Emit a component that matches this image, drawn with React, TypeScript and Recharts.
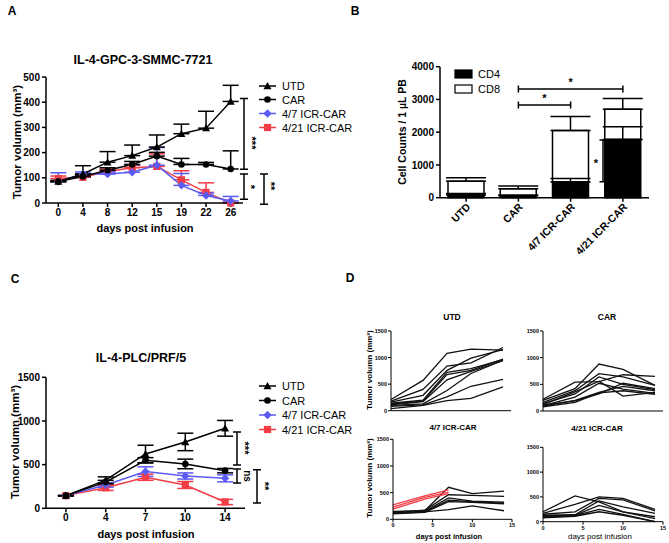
import React from 'react';
import { Bar, BarChart, ErrorBar, Line, LineChart, XAxis, YAxis } from 'recharts';

const FONT = "'Liberation Sans', Arial, sans-serif";
const BLUE = '#5b5bf2';
const RED = '#f23c46';

const groupNames = ['UTD', 'CAR', '4/7 ICR-CAR', '4/21 ICR-CAR'];

// A: IL-4-GPC-3-SMMC-7721 (mean, upper SEM)
const daysA = ['0', '4', '8', '12', '15', '19', '22', '26'];
const utdA = [85, 115, 162, 188, 222, 275, 297, 403];
const utdAErr = [5, 33, 42, 42, 48, 38, 67, 64];
const carA = [85, 105, 130, 153, 186, 153, 153, 135];
const carAErr = [0, 8, 10, 12, 15, 24, 8, 72];
const icr47A = [85, 115, 115, 122, 150, 70, 30, 8];
const icr47AErr = [35, 8, 8, 30, 70, 47, 10, 18];
const icr421A = [97, 102, 125, 140, 145, 92, 42, 0];
const icr421AErr = [10, 5, 10, 10, 50, 36, 38, 0];

// C: IL-4-PLC/PRF/5 (mean +/- SEM)
const daysC = ['0', '4', '7', '10', '14'];
const utdC = [145, 322, 622, 760, 916];
const utdCErr = [0, 38, 100, 100, 90];
const carC = [145, 300, 550, 508, 431];
const carCErr = [0, 20, 30, 55, 25];
const icr47C = [145, 267, 420, 370, 343];
const icr47CErr = [0, 25, 55, 35, 40];
const icr421C = [145, 235, 355, 267, 72];
const icr421CErr = [0, 30, 35, 40, 30];

// B: cell counts per uL PB
const cd4Counts = [80, 60, 480, 1780];
const cd8Counts = [420, 210, 1570, 920];
const cd4Sem = [50, 20, 110, 390];
const cd8Sem = [110, 90, 430, 330];

// D: individual mice
const dDays = [0, 4, 7, 10, 14];
const utdMice = [
  [210, 570, 1080, 1160, 1140],
  [180, 400, 840, 900, 1190],
  [160, 290, 760, 990, 1150],
  [140, 200, 720, 790, 960],
  [130, 180, 680, 760, 970],
  [110, 170, 580, 740, 940],
  [100, 130, 380, 700, 950],
  [80, 110, 260, 460, 590],
  [40, 100, 190, 230, 450],
];
const carMice = [
  [220, 540, 550, 680, 650],
  [200, 420, 880, 780, 480],
  [160, 380, 700, 640, 480],
  [140, 320, 640, 500, 400],
  [120, 360, 560, 280, 350],
  [100, 260, 520, 410, 330],
  [90, 200, 350, 460, 380],
  [80, 160, 340, 380, 310],
  [110, 190, 320, 520, 420],
];
const icr47Mice = [
  [150, 160, 600, 480, 530],
  [130, 170, 460, 450, 430],
  [120, 150, 400, 340, 320],
  [110, 140, 360, 330, 300],
  [100, 130, 330, 320, 290],
  [140, 140, 180, 250, 160],
];
const icr47RedMice = [
  [270, 440, 550],
  [230, 410, 510],
  [190, 380, 480],
];
const icr421Mice = [
  [200, 520, 400, 200, 100],
  [170, 350, 500, 470, 250],
  [150, 200, 470, 440, 220],
  [130, 140, 420, 300, 170],
  [110, 130, 330, 200, 60],
  [100, 120, 250, 150, 0],
  [80, 110, 200, 130, 0],
];

const rowsA = daysA.map((day, i) => ({
  day,
  utd: utdA[i], utdE: [0, utdAErr[i]],
  car: carA[i], carE: [0, carAErr[i]],
  i47: icr47A[i], i47E: [0, icr47AErr[i]],
  i421: icr421A[i], i421E: [0, icr421AErr[i]],
}));

const rowsC = daysC.map((day, i) => ({
  day,
  utd: utdC[i], utdE: [utdCErr[i], utdCErr[i]],
  car: carC[i], carE: [carCErr[i], carCErr[i]],
  i47: icr47C[i], i47E: [icr47CErr[i], icr47CErr[i]],
  i421: icr421C[i], i421E: [icr421CErr[i], icr421CErr[i]],
}));

const rowsB = groupNames.map((group, i) => ({
  group,
  cd4: cd4Counts[i], cd4E: [0, cd4Sem[i]],
  cd8: cd8Counts[i], cd8E: [0, cd8Sem[i]],
}));

function miceRows(mice: number[][], red: number[][] = []) {
  return dDays.map((day, d) => {
    const row: any = { day };
    mice.forEach((m, i) => (row['m' + i] = m[d]));
    red.forEach((m, i) => (row['r' + i] = m[d]));
    return row;
  });
}

type Plot = { left: number; top: number; width: number; height: number; max: number };
type Box = { left: number; top: number; width: number; height: number };

const yAt = (p: Plot, v: number) => p.top + p.height * (1 - v / p.max);

const A_BOX: Box = { left: 0, top: 0, width: 330, height: 245 };
const A_PLOT: Plot = { left: 46, top: 77, width: 197, height: 126, max: 500 };
const C_BOX: Box = { left: 0, top: 260, width: 330, height: 283 };
const C_PLOT: Plot = { left: 46, top: 377.3, width: 199, height: 131, max: 1500 };
const B_BOX: Box = { left: 330, top: 0, width: 339, height: 260 };
const B_PLOT: Plot = { left: 440, top: 66.7, width: 209, height: 131, max: 4000 };

const D_UTD = { box: { left: 355, top: 320, width: 165, height: 105 }, plot: { left: 391, top: 331, width: 120, height: 79.7, max: 1500 } };
const D_CAR = { box: { left: 510, top: 320, width: 159, height: 105 }, plot: { left: 543, top: 331, width: 120, height: 80, max: 1500 } };
const D_47 = { box: { left: 355, top: 430, width: 165, height: 105 }, plot: { left: 393, top: 439.3, width: 119, height: 80, max: 1500 } };
const D_421 = { box: { left: 510, top: 430, width: 159, height: 105 }, plot: { left: 543, top: 447.3, width: 120, height: 74.4, max: 1500 } };

function marginFor(box: Box, plot: Plot, yw: number, xh: number) {
  return {
    top: plot.top - box.top,
    left: plot.left - box.left - yw,
    right: box.left + box.width - plot.left - plot.width,
    bottom: box.top + box.height - plot.top - plot.height - xh,
  };
}

const triDot = (fill: string, r: number) => (p: any) =>
  p.cx == null || p.cy == null ? <g key={p.index} /> : (
    <path key={p.index} d={`M${p.cx},${p.cy - r}L${p.cx + r},${p.cy + r * 0.8}L${p.cx - r},${p.cy + r * 0.8}Z`} fill={fill} />
  );
const circleDot = (fill: string, r: number) => (p: any) =>
  p.cx == null || p.cy == null ? <g key={p.index} /> : <circle key={p.index} cx={p.cx} cy={p.cy} r={r} fill={fill} />;
const diamondDot = (fill: string, r: number) => (p: any) =>
  p.cx == null || p.cy == null ? <g key={p.index} /> : (
    <path key={p.index} d={`M${p.cx},${p.cy - r}L${p.cx + r},${p.cy}L${p.cx},${p.cy + r}L${p.cx - r},${p.cy}Z`} fill={fill} />
  );
const squareDot = (fill: string, r: number) => (p: any) =>
  p.cx == null || p.cy == null ? <g key={p.index} /> : <rect key={p.index} x={p.cx - r} y={p.cy - r} width={2 * r} height={2 * r} fill={fill} />;

const seriesDefs = [
  { key: 'i421', label: '4/21 ICR-CAR', color: RED, dot: squareDot(RED, 3.6) },
  { key: 'i47', label: '4/7 ICR-CAR', color: BLUE, dot: diamondDot(BLUE, 4.2) },
  { key: 'car', label: 'CAR', color: '#000', dot: circleDot('#000', 3.3) },
  { key: 'utd', label: 'UTD', color: '#000', dot: triDot('#000', 4) },
];

const axisStroke = { stroke: '#000', strokeWidth: 1.5 };
const boldTick = { fontSize: 10, fontWeight: 'bold', fill: '#000', fontFamily: FONT };

function TumorChart({ rows, box, plot, yTicks }: { rows: any[]; box: Box; plot: Plot; yTicks: number[] }) {
  const half = plot.width / rows.length / 2;
  return (
    <div style={{ position: 'absolute', left: box.left, top: box.top }}>
      <LineChart width={box.width} height={box.height} data={rows} margin={marginFor(box, plot, 40, 20)}>
        <XAxis dataKey="day" type="category" interval={0} height={20} tickSize={4} tickMargin={2}
          padding={{ left: half, right: half }}
          axisLine={axisStroke} tickLine={axisStroke} tick={boldTick} />
        <YAxis type="number" domain={[0, plot.max]} ticks={yTicks} interval={0} width={40} tickSize={4} tickMargin={2}
          axisLine={axisStroke} tickLine={axisStroke} tick={boldTick} />
        {seriesDefs.map((s) => (
          <Line key={s.key} dataKey={s.key} stroke={s.color} strokeWidth={1.5} dot={s.dot} activeDot={false}
            isAnimationActive={false} type="linear">
            <ErrorBar dataKey={s.key + 'E'} width={8} strokeWidth={1.5} stroke={s.color} direction="y" isAnimationActive={false} />
          </Line>
        ))}
      </LineChart>
    </div>
  );
}

const BTick = (props: any) => {
  const { x, y, payload } = props;
  const px = x + 5;
  const py = y + 4;
  return (
    <text x={px} y={py} transform={`rotate(-45 ${px} ${py})`} textAnchor="end" fontSize={10.5} fontWeight="bold" fill="#000" fontFamily={FONT}>
      {payload.value}
    </text>
  );
};

function CellChart() {
  return (
    <div style={{ position: 'absolute', left: B_BOX.left, top: B_BOX.top }}>
      <BarChart width={B_BOX.width} height={B_BOX.height} data={rowsB} margin={marginFor(B_BOX, B_PLOT, 40, 55)} barSize={36}>
        <XAxis dataKey="group" interval={0} height={55} tickSize={4} tickMargin={2}
          axisLine={axisStroke} tickLine={axisStroke} tick={<BTick />} />
        <YAxis type="number" domain={[0, 4000]} ticks={[0, 1000, 2000, 3000, 4000]} interval={0} width={40}
          tickSize={4} tickMargin={2} axisLine={axisStroke} tickLine={axisStroke} tick={boldTick} />
        <Bar dataKey="cd4" stackId="s" fill="#000" stroke="#000" strokeWidth={1.5} isAnimationActive={false}>
          <ErrorBar dataKey="cd4E" width={20} strokeWidth={1.5} stroke="#000" direction="y" isAnimationActive={false} />
        </Bar>
        <Bar dataKey="cd8" stackId="s" fill="none" stroke="#000" strokeWidth={1.5} isAnimationActive={false}>
          <ErrorBar dataKey="cd8E" width={20} strokeWidth={1.5} stroke="#000" direction="y" isAnimationActive={false} />
        </Bar>
      </BarChart>
    </div>
  );
}

const tinyTick = { fontSize: 5.5, fontWeight: 'bold', fill: '#000', fontFamily: FONT };
const thinAxis = { stroke: '#000', strokeWidth: 1 };

function MiceChart({ cfg, mice, red = [], showX }: { cfg: { box: Box; plot: Plot }; mice: number[][]; red?: number[][]; showX: boolean }) {
  const { box, plot } = cfg;
  const rows = miceRows(mice, red);
  return (
    <div style={{ position: 'absolute', left: box.left, top: box.top }}>
      <LineChart width={box.width} height={box.height} data={rows} margin={marginFor(box, plot, 20, 10)}>
        <XAxis dataKey="day" type="number" domain={[0, 15]} ticks={[0, 5, 10, 15]} interval={0} height={10}
          tickSize={3} tickMargin={1} axisLine={thinAxis} tickLine={thinAxis} tick={showX ? tinyTick : false} />
        <YAxis type="number" domain={[0, 1500]} ticks={[0, 500, 1000, 1500]} interval={0} width={20}
          tickSize={3} tickMargin={1} axisLine={thinAxis} tickLine={thinAxis} tick={tinyTick} />
        {mice.map((_, i) => (
          <Line key={'m' + i} dataKey={'m' + i} stroke="#111" strokeWidth={1.3} dot={false} activeDot={false} isAnimationActive={false} />
        ))}
        {red.map((_, i) => (
          <Line key={'r' + i} dataKey={'r' + i} stroke={RED} strokeWidth={1.3} dot={false} activeDot={false} isAnimationActive={false} />
        ))}
      </LineChart>
    </div>
  );
}

function vBracket(x: number, y1: number, y2: number, c = 4) {
  return `M${x},${y1}V${y2}M${x - c},${y1}H${x + c}M${x - c},${y2}H${x + c}`;
}
function hBracket(y: number, x1: number, x2: number, c = 4) {
  return `M${x1},${y}H${x2}M${x1},${y - c}V${y + c}M${x2},${y - c}V${y + c}`;
}

function SeriesLegend({ x, ys }: { x: number; ys: number[] }) {
  const order = ['utd', 'car', 'i47', 'i421'];
  return (
    <g>
      {order.map((k, i) => {
        const s = seriesDefs.find((d) => d.key === k)!;
        const y = ys[i];
        return (
          <g key={k}>
            <line x1={x} x2={x + 17} y1={y} y2={y} stroke={s.color} strokeWidth={1.5} />
            {s.dot({ cx: x + 8.5, cy: y, index: 'lg' + k })}
            <text x={x + 23} y={y + 4} fontSize={11} fill="#000">{s.label}</text>
          </g>
        );
      })}
    </g>
  );
}

function Stars({ x, y, text, rotate = true, size = 11 }: { x: number; y: number; text: string; rotate?: boolean; size?: number }) {
  return (
    <text x={x} y={y} fontSize={size} fontWeight="bold" textAnchor="middle" dominantBaseline="central"
      transform={rotate ? `rotate(90 ${x} ${y})` : undefined} fill="#000">{text}</text>
  );
}

function Overlay() {
  const bBand = B_PLOT.width / groupNames.length;
  const bx = (i: number) => B_PLOT.left + bBand * (i + 0.5);
  const by = (v: number) => yAt(B_PLOT, v);
  const ay = (v: number) => yAt(A_PLOT, v);
  const cy = (v: number) => yAt(C_PLOT, v);
  const boldLabel = { fontWeight: 'bold' as const, fill: '#000' };
  return (
    <svg width={669} height={543} style={{ position: 'absolute', left: 0, top: 0, pointerEvents: 'none' }} fontFamily={FONT}>
      {/* panel letters */}
      <text x={12} y={15} fontSize={12} {...boldLabel} textAnchor="middle">A</text>
      <text x={355} y={15} fontSize={12} {...boldLabel} textAnchor="middle">B</text>
      <text x={15} y={283} fontSize={12} {...boldLabel} textAnchor="middle">C</text>
      <text x={350} y={282} fontSize={12} {...boldLabel} textAnchor="middle">D</text>

      {/* A */}
      <text x={143} y={64} fontSize={12.5} {...boldLabel} textAnchor="middle">IL-4-GPC-3-SMMC-7721</text>
      <text x={17} y={142} fontSize={11.5} {...boldLabel} textAnchor="middle" dominantBaseline="central" transform="rotate(-90 17 142)">Tumor volumn (mm³)</text>
      <text x={145} y={232} fontSize={11} {...boldLabel} textAnchor="middle">days post infusion</text>
      <SeriesLegend x={259} ys={[86, 99.5, 113.5, 127.5]} />
      <path d={vBracket(244, ay(415), ay(134))} stroke="#000" strokeWidth={1.5} fill="none" />
      <path d={vBracket(244, ay(115), ay(15))} stroke="#000" strokeWidth={1.5} fill="none" />
      <path d={vBracket(264, ay(115), ay(-5))} stroke="#000" strokeWidth={1.5} fill="none" />
      <Stars x={252} y={143} text="***" />
      <Stars x={251} y={187} text="*" />
      <Stars x={271} y={186} text="**" />

      {/* C */}
      <text x={141} y={362} fontSize={12.5} {...boldLabel} textAnchor="middle">IL-4-PLC/PRF/5</text>
      <text x={15} y={442} fontSize={11.5} {...boldLabel} textAnchor="middle" dominantBaseline="central" transform="rotate(-90 15 442)">Tumor volumn (mm³)</text>
      <text x={146} y={538} fontSize={11} {...boldLabel} textAnchor="middle">days post infusion</text>
      <SeriesLegend x={259} ys={[386, 400.5, 415, 429.5]} />
      <path d={vBracket(237, cy(874), cy(496))} stroke="#000" strokeWidth={1.5} fill="none" />
      <path d={vBracket(237, cy(450), cy(290))} stroke="#000" strokeWidth={1.5} fill="none" />
      <path d={vBracket(257, cy(440), cy(62))} stroke="#000" strokeWidth={1.5} fill="none" />
      <Stars x={245} y={448} text="***" />
      <text x={247} y={476} fontSize={10} {...boldLabel} textAnchor="middle" dominantBaseline="central" transform="rotate(90 247 476)">ns</text>
      <Stars x={265} y={486} text="**" />

      {/* B */}
      <text x={402} y={132} fontSize={10.5} {...boldLabel} textAnchor="middle" dominantBaseline="central" transform="rotate(-90 402 132)">Cell Counts / 1 µL PB</text>
      <rect x={455} y={70} width={17} height={8} fill="#000" stroke="#000" strokeWidth={1.2} />
      <text x={478} y={78} fontSize={11} fill="#000">CD4</text>
      <rect x={455} y={85} width={17} height={8} fill="#fff" stroke="#000" strokeWidth={1.2} />
      <text x={478} y={93} fontSize={11} fill="#000">CD8</text>
      <path d={hBracket(by(3320), bx(1), bx(3), 3.5)} stroke="#000" strokeWidth={1.5} fill="none" />
      <path d={hBracket(by(2830), bx(1), bx(2), 3.5)} stroke="#000" strokeWidth={1.5} fill="none" />
      <path d={vBracket(603, by(1760), by(490), 3.5)} stroke="#000" strokeWidth={1.5} fill="none" />
      <Stars x={(bx(1) + bx(3)) / 2} y={by(3320) - 7} text="*" rotate={false} />
      <Stars x={(bx(1) + bx(2)) / 2} y={by(2830) - 7} text="*" rotate={false} />
      <Stars x={596} y={163} text="*" rotate={false} />

      {/* D */}
      <text x={452} y={320} fontSize={8.5} {...boldLabel} textAnchor="middle">UTD</text>
      <text x={607} y={320} fontSize={8.5} {...boldLabel} textAnchor="middle">CAR</text>
      <text x={453} y={430} fontSize={8} {...boldLabel} textAnchor="middle">4/7 ICR-CAR</text>
      <text x={597} y={431} fontSize={8} fill="#000" fontWeight={600} textAnchor="middle">4/21 ICR-CAR</text>
      <text x={369} y={370} fontSize={8} {...boldLabel} textAnchor="middle" dominantBaseline="central" transform="rotate(-90 369 370)">Tumor volumn (mm³)</text>
      <text x={369} y={478} fontSize={8} {...boldLabel} textAnchor="middle" dominantBaseline="central" transform="rotate(-90 369 478)">Tumor volumn (mm³)</text>
      <text x={449} y={539} fontSize={7.5} {...boldLabel} textAnchor="middle">days post infusion</text>
      <text x={600} y={539} fontSize={8} fill="#000" textAnchor="middle">days post infusion</text>
    </svg>
  );
}

export default function App() {
  return (
    <div style={{ position: 'absolute', left: 0, top: 0, width: 669, height: 543, background: '#fff', fontFamily: FONT, overflow: 'hidden' }}>
      <TumorChart rows={rowsA} box={A_BOX} plot={A_PLOT} yTicks={[0, 100, 200, 300, 400, 500]} />
      <TumorChart rows={rowsC} box={C_BOX} plot={C_PLOT} yTicks={[0, 500, 1000, 1500]} />
      <CellChart />
      <MiceChart cfg={D_UTD} mice={utdMice} showX={false} />
      <MiceChart cfg={D_CAR} mice={carMice} showX={false} />
      <MiceChart cfg={D_47} mice={icr47Mice} red={icr47RedMice} showX={true} />
      <MiceChart cfg={D_421} mice={icr421Mice} showX={true} />
      <Overlay />
    </div>
  );
}
